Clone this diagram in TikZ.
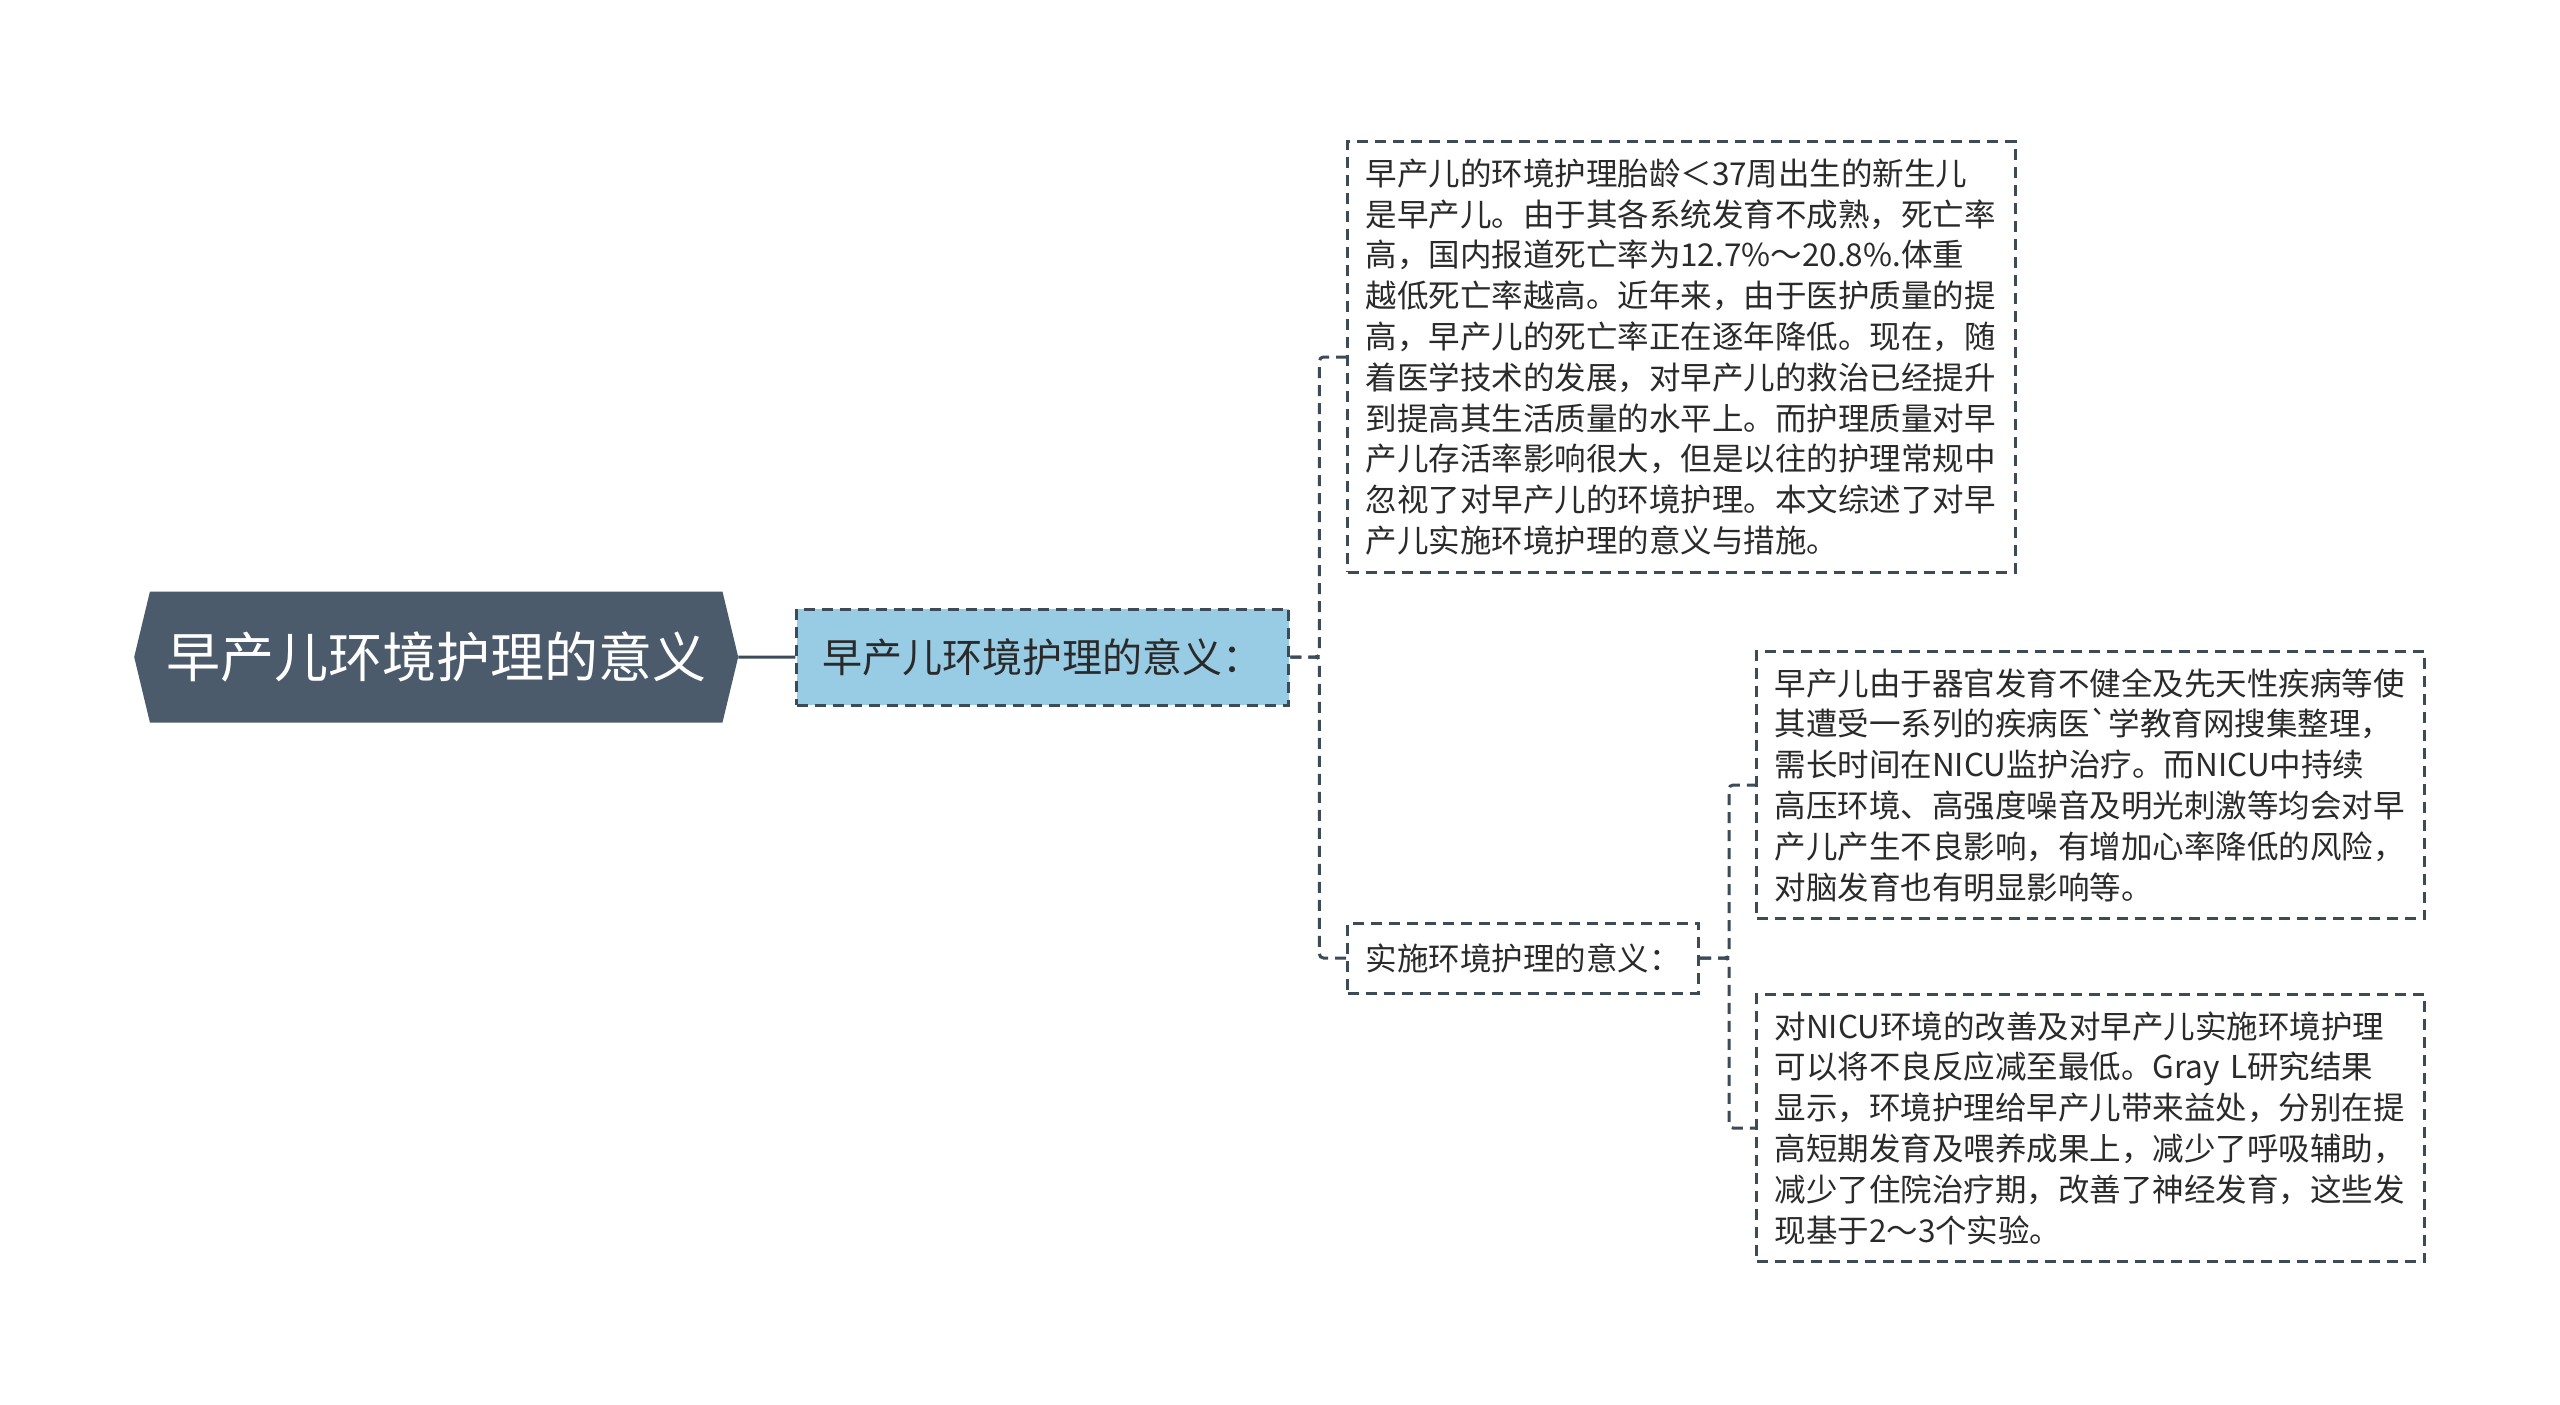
\documentclass[tikz,border=0pt]{standalone}
\usepackage{fontspec}
\newfontfamily\cjk{Noto Sans CJK SC}
\usetikzlibrary{positioning,shapes.symbols}

\definecolor{rootfill}{HTML}{4B5B6B}
\definecolor{subfill}{HTML}{98CBE4}
\definecolor{edgecol}{HTML}{3D4B57}
\definecolor{textcol}{HTML}{2A2A2A}

\begin{document}
\begin{tikzpicture}[
    x=1pt, y=-1pt,
    every node/.style={inner sep=0pt, text=textcol},
    rootbox/.style={shape=signal, signal from=nowhere, signal to=east and west, signal pointer angle=153,
      fill=rootfill, text=white, minimum width=604pt, minimum height=131pt,
      font=\cjk\fontsize{54}{60}\selectfont},
    dashbox/.style={draw=edgecol, line width=3pt, dash pattern=on 11pt off 7pt},
    subbox/.style={dashbox, fill=subfill, minimum width=492pt, minimum height=96pt,
      font=\cjk\fontsize{40}{48}\selectfont},
    midbox/.style={dashbox, fill=white, minimum width=351pt, minimum height=70pt,
      font=\cjk\fontsize{31.5}{40}\selectfont},
    textbox/.style={dashbox, fill=white, align=left, text width=632pt, inner xsep=18pt, inner ysep=17pt,
      font=\cjk\fontsize{31.5}{40.8}\selectfont},
    link/.style={draw=edgecol, line width=3pt, dash pattern=on 11pt off 7pt, rounded corners=4pt}
  ]
    \fill[white] (0,0) rectangle (2560,1405);
    \useasboundingbox (0,0) rectangle (2560,1405);

    \node[rootbox, anchor=west] (root) at (134,657) {早产儿环境护理的意义};
    \node[subbox, right=57pt of root] (meaning) {早产儿环境护理的意义：};
    \node[textbox, anchor=west] (intro) at (1346,357) {早产儿的环境护理胎龄＜37周出生的新生儿\\是早产儿。由于其各系统发育不成熟，死亡率\\高，国内报道死亡率为12.7\%～20.8\%.体重\\越低死亡率越高。近年来，由于医护质量的提\\高，早产儿的死亡率正在逐年降低。现在，随\\着医学技术的发展，对早产儿的救治已经提升\\到提高其生活质量的水平上。而护理质量对早\\产儿存活率影响很大，但是以往的护理常规中\\忽视了对早产儿的环境护理。本文综述了对早\\产儿实施环境护理的意义与措施。};
    \node[midbox, anchor=west] (impl) at (1346,958) {实施环境护理的意义：};
    \node[textbox, anchor=west] (risk) at (1755,785) {早产儿由于器官发育不健全及先天性疾病等使\\其遭受一系列的疾病医`学教育网搜集整理，\\需长时间在NICU监护治疗。而NICU中持续\\高压环境、高强度噪音及明光刺激等均会对早\\产儿产生不良影响，有增加心率降低的风险，\\对脑发育也有明显影响等。};
    \node[textbox, anchor=west] (benefit) at (1755,1128) {对NICU环境的改善及对早产儿实施环境护理\\可以将不良反应减至最低。Gray L研究结果\\显示，环境护理给早产儿带来益处，分别在提\\高短期发育及喂养成果上，减少了呼吸辅助，\\减少了住院治疗期，改善了神经发育，这些发\\现基于2～3个实验。};

    \draw[edgecol, line width=3pt] (root) -- (meaning);
    \draw[link] (meaning.east) -- ++(29,0) |- (intro.west);
    \draw[link] (meaning.east) -- ++(29,0) |- (impl.west);
    \draw[link] (impl.east) -- ++(29,0) |- (risk.west);
    \draw[link] (impl.east) -- ++(29,0) |- (benefit.west);
  \end{tikzpicture}
\end{document}
